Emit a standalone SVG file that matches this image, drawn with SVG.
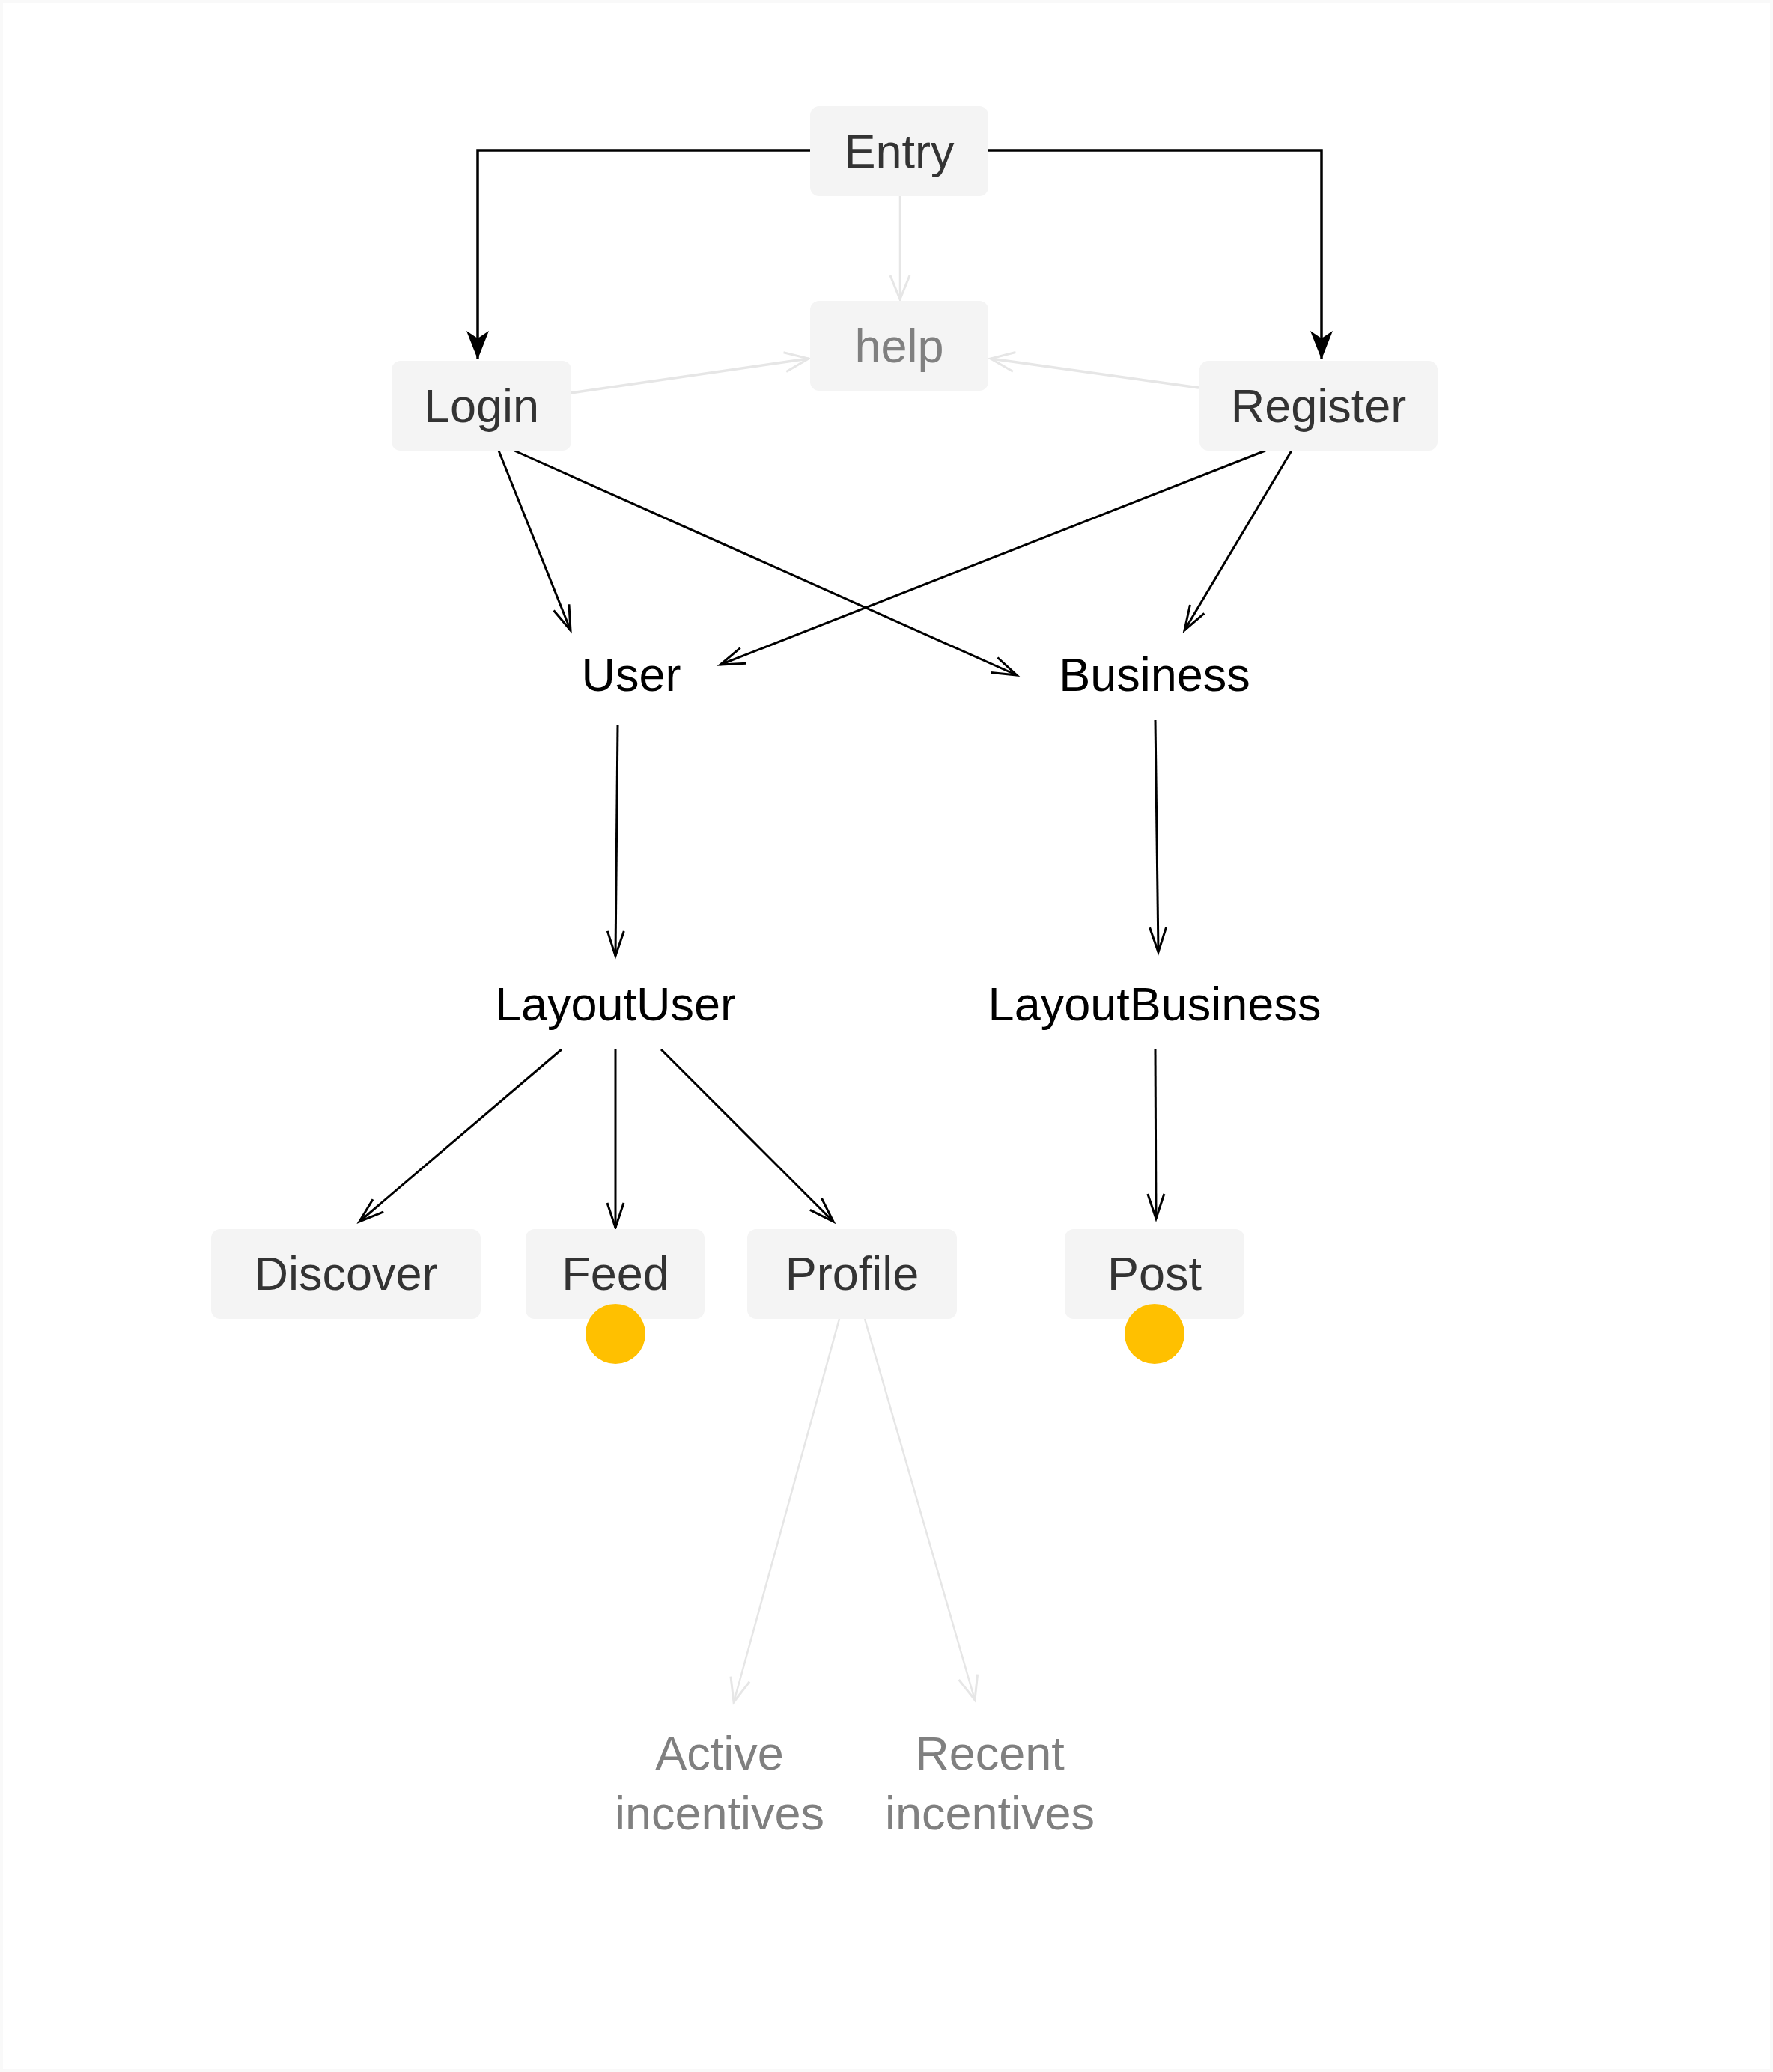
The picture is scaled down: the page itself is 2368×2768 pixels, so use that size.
<svg xmlns="http://www.w3.org/2000/svg" width="2368" height="2768" viewBox="0 0 2368 2768">
<style>
.box{fill:#f4f4f4}
.t{font-family:"Liberation Sans",Arial,sans-serif;font-size:63px;text-anchor:middle}
.dark{fill:#333333}
.gray{fill:#808080}
.black{fill:#000000}
.edge{fill:none;stroke:#000;stroke-width:3}
.thick{fill:none;stroke:#000;stroke-width:3.5}
.light{fill:none;stroke:#e6e6e6;stroke-width:2.5}
.light3{fill:none;stroke:#e6e6e6;stroke-width:3.5}
.dot{fill:#ffc000}
</style>
<defs>
<marker id="open" markerUnits="userSpaceOnUse" markerWidth="50" markerHeight="50" refX="0" refY="0" viewBox="-40 -25 50 50" orient="auto" overflow="visible">
<path d="M-33,-11 L0,0 L-33,11" fill="none" stroke="#000" stroke-width="3"/>
</marker>
<marker id="openlight" markerUnits="userSpaceOnUse" markerWidth="50" markerHeight="50" refX="0" refY="0" viewBox="-40 -25 50 50" orient="auto" overflow="visible">
<path d="M-32,-13 L0,0 L-32,13" fill="none" stroke="#e6e6e6" stroke-width="3"/>
</marker>
<marker id="solid" markerUnits="userSpaceOnUse" markerWidth="50" markerHeight="50" refX="0" refY="0" viewBox="-45 -25 50 50" orient="auto" overflow="visible">
<path d="M0,0 L-38,-15 L-28,0 L-38,15 Z" fill="#000"/>
</marker>
</defs>
<rect x="0" y="0" width="2368" height="2768" fill="#f9f9f9"/>
<rect x="4" y="4" width="2360" height="2760" fill="#ffffff"/>
<g id="connectors">
<path class="thick" d="M1082,201 L638,201 L638,480" marker-end="url(#solid)"/>
<path class="thick" d="M1320,201 L1765,201 L1765,480" marker-end="url(#solid)"/>
<path class="light" d="M1202,262 L1202,400" marker-end="url(#openlight)"/>
<path class="light3" d="M762,525 L1080,479" marker-end="url(#openlight)"/>
<path class="light3" d="M1601,518 L1323,479" marker-end="url(#openlight)"/>
<path class="edge" d="M666,602 L762,842" marker-end="url(#open)"/>
<path class="edge" d="M687,602 L1358,902" marker-end="url(#open)"/>
<path class="edge" d="M1690,602 L962,888" marker-end="url(#open)"/>
<path class="edge" d="M1725,602 L1582,842" marker-end="url(#open)"/>
<path class="edge" d="M825,969 L822,1277" marker-end="url(#open)"/>
<path class="edge" d="M1543,962 L1547,1272" marker-end="url(#open)"/>
<path class="edge" d="M750,1402 L480,1632" marker-end="url(#open)"/>
<path class="edge" d="M822,1402 L822,1640" marker-end="url(#open)"/>
<path class="edge" d="M883,1402 L1113,1632" marker-end="url(#open)"/>
<path class="edge" d="M1543,1402 L1544,1628" marker-end="url(#open)"/>
<path class="light" d="M1121,1762 L980,2274" marker-end="url(#openlight)"/>
<path class="light" d="M1155,1762 L1302,2271" marker-end="url(#openlight)"/>
</g>
<g id="entry"><rect class="box" x="1082" y="142" width="238" height="120" rx="12"/><text class="t dark" x="1201" y="224">Entry</text></g>
<g id="help"><rect class="box" x="1082" y="402" width="238" height="120" rx="12"/><text class="t gray" x="1201" y="484">help</text></g>
<g id="login"><rect class="box" x="523" y="482" width="240" height="120" rx="12"/><text class="t dark" x="643" y="564">Login</text></g>
<g id="register"><rect class="box" x="1602" y="482" width="318" height="120" rx="12"/><text class="t dark" x="1761" y="564">Register</text></g>
<g id="user"><text class="t black" x="843" y="923">User</text></g>
<g id="business"><text class="t black" x="1542" y="923">Business</text></g>
<g id="layoutuser"><text class="t black" x="822" y="1363">LayoutUser</text></g>
<g id="layoutbusiness"><text class="t black" x="1542" y="1363">LayoutBusiness</text></g>
<g id="discover"><rect class="box" x="282" y="1642" width="360" height="120" rx="12"/><text class="t dark" x="462" y="1723">Discover</text></g>
<g id="feed"><rect class="box" x="702" y="1642" width="239" height="120" rx="12"/><text class="t dark" x="822" y="1723">Feed</text><circle class="dot" cx="822" cy="1782" r="40"/></g>
<g id="profile"><rect class="box" x="998" y="1642" width="280" height="120" rx="12"/><text class="t dark" x="1138" y="1723">Profile</text></g>
<g id="post"><rect class="box" x="1422" y="1642" width="240" height="120" rx="12"/><text class="t dark" x="1542" y="1723">Post</text><circle class="dot" cx="1542" cy="1782" r="40"/></g>
<g id="active"><text class="t gray" x="961" y="2364">Active</text><text class="t gray" x="961" y="2444">incentives</text></g>
<g id="recent"><text class="t gray" x="1322" y="2364">Recent</text><text class="t gray" x="1322" y="2444">incentives</text></g>
</svg>
